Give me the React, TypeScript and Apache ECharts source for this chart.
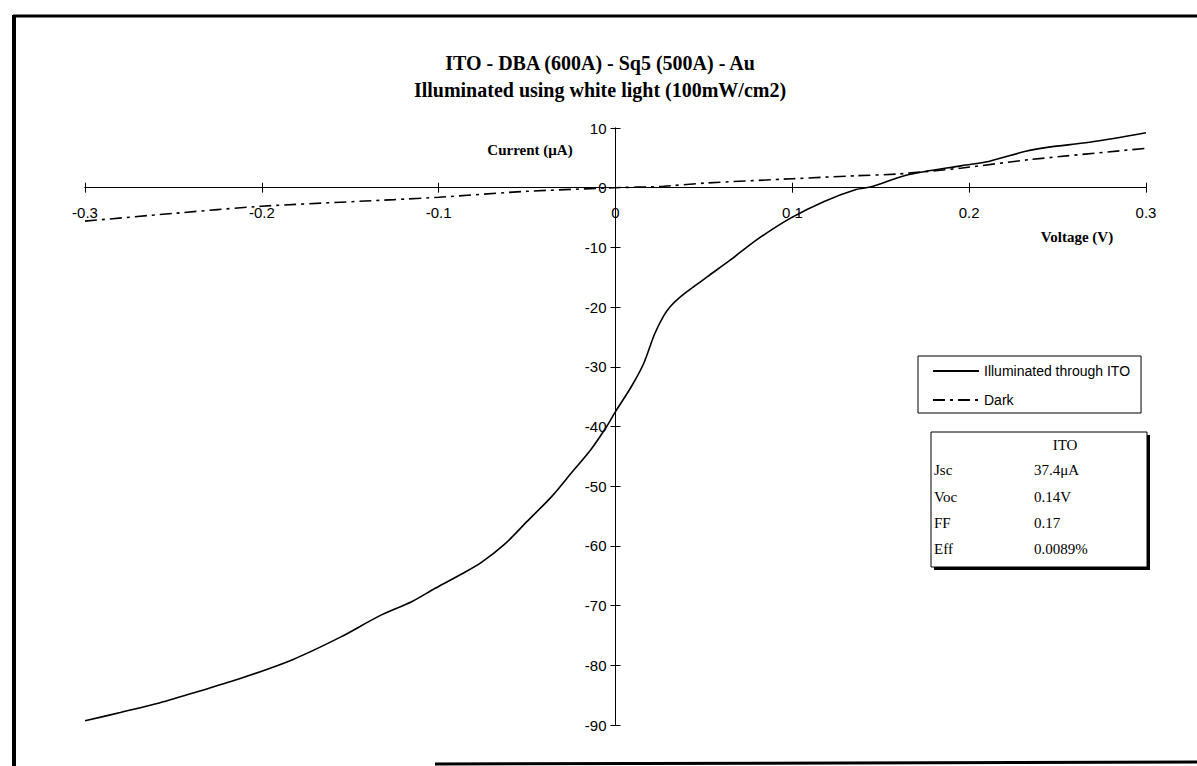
import React, { useEffect, useRef } from "react";
import * as echarts from "echarts";

const titleLines = ["ITO - DBA (600A) - Sq5 (500A) - Au", "Illuminated using white light (100mW/cm2)"];
const xTicks = { min: -0.3, max: 0.3, interval: 0.1 };
const yTicks = { min: -90, max: 10, interval: 10 };

const illumV = [-0.3, -0.28, -0.258, -0.235, -0.211, -0.183, -0.155, -0.134, -0.115, -0.102, -0.087, -0.076, -0.063, -0.05, -0.036, -0.025, -0.014, -0.005, 0, 0.009, 0.016, 0.022, 0.027, 0.031, 0.037, 0.046, 0.052, 0.065, 0.08, 0.099, 0.118, 0.136, 0.144, 0.166, 0.196, 0.211, 0.232, 0.245, 0.268, 0.3];
const illumI = [-89.3, -87.9, -86.3, -84.3, -82.1, -79.1, -75.2, -71.8, -69.3, -67.1, -64.7, -62.8, -59.8, -55.9, -51.7, -47.8, -43.9, -40.0, -37.5, -33.3, -29.4, -24.6, -21.6, -19.9, -18.2, -16.2, -14.9, -12.1, -8.7, -5.1, -2.3, -0.3, 0.1, 2.2, 3.7, 4.4, 6.1, 6.8, 7.6, 9.2];

const darkV = [-0.3, -0.25, -0.2, -0.125, -0.1, -0.05, 0, 0.025, 0.052, 0.1, 0.136, 0.16, 0.196, 0.234, 0.3];
const darkI = [-5.6, -4.3, -3.1, -2.0, -1.6, -0.6, 0, 0.2, 0.8, 1.5, 2.0, 2.3, 3.3, 4.7, 6.6];

const seriesNames = ["Illuminated through ITO", "Dark"];
const tableHeader = "ITO";
const tableLabels = ["Jsc", "Voc", "FF", "Eff"];
const tableValues = ["37.4\u03bcA", "0.14V", "0.17", "0.0089%"];

const SERIF = "'Liberation Serif', 'Times New Roman', serif";
const SANS = "'Liberation Sans', Arial, sans-serif";

const W = 1197;
const H = 766;
const GRID = { left: 85, right: 51, top: 128, bottom: 41 };

export default function App() {
  const ref = useRef<HTMLDivElement>(null);
  useEffect(() => {
    if (!ref.current) return;
    const chart = echarts.init(ref.current, null, { renderer: "svg" });
    const illum = illumV.map((v, i) => [v, illumI[i]]);
    const dark = darkV.map((v, i) => [v, darkI[i]]);

    const gw = W - GRID.left - GRID.right;
    const gh = H - GRID.top - GRID.bottom;
    // distance of the zero lines from the grid edges (axes cross at the origin)
    const zeroFromBottom = (gh * (0 - yTicks.min)) / (yTicks.max - yTicks.min);
    const zeroFromLeft = (gw * (0 - xTicks.min)) / (xTicks.max - xTicks.min);

    const axisLine = { show: true, onZero: false, lineStyle: { color: "#000", width: 1 } };
    const tick = { show: true, length: 5, lineStyle: { color: "#000", width: 1 } };

    const rowYs = [470, 497, 523, 549];
    const tableTexts: any[] = [
      { type: "text", x: 1065, y: 445, style: { text: tableHeader, font: `15px ${SERIF}`, fill: "#000", textAlign: "center", textVerticalAlign: "middle" } },
    ];
    tableLabels.forEach((l, i) => {
      tableTexts.push({ type: "text", x: 934, y: rowYs[i], style: { text: l, font: `15px ${SERIF}`, fill: "#000", textVerticalAlign: "middle" } });
      tableTexts.push({ type: "text", x: 1034, y: rowYs[i], style: { text: tableValues[i], font: `15px ${SERIF}`, fill: "#000", textVerticalAlign: "middle" } });
    });

    chart.setOption({
      animation: false,
      backgroundColor: "#fff",
      grid: { ...GRID, containLabel: false },
      xAxis: [
        {
          type: "value", min: xTicks.min, max: xTicks.max, interval: xTicks.interval, position: "bottom", offset: -zeroFromBottom,
          axisLine, axisTick: tick, splitLine: { show: false },
          axisLabel: { color: "#000", fontFamily: SANS, fontSize: 15, margin: 17, formatter: (v: number) => String(Math.round(v * 10) / 10) },
        },
        {
          type: "value", min: xTicks.min, max: xTicks.max, interval: xTicks.interval, position: "top", offset: -(gh - zeroFromBottom),
          axisLine, axisTick: tick, splitLine: { show: false }, axisLabel: { show: false },
        },
      ],
      yAxis: [
        {
          type: "value", min: yTicks.min, max: yTicks.max, interval: yTicks.interval, position: "left", offset: -zeroFromLeft,
          axisLine, axisTick: tick, splitLine: { show: false },
          axisLabel: { color: "#000", fontFamily: SANS, fontSize: 15, margin: 9 },
        },
        {
          type: "value", min: yTicks.min, max: yTicks.max, interval: yTicks.interval, position: "right", offset: -(gw - zeroFromLeft),
          axisLine, axisTick: tick, splitLine: { show: false }, axisLabel: { show: false },
        },
      ],
      legend: {
        orient: "vertical",
        left: 918,
        top: 356,
        padding: [8, 11, 6, 14],
        itemGap: 15,
        itemWidth: 46,
        itemHeight: 14,
        borderColor: "#000",
        borderWidth: 1,
        backgroundColor: "#fff",
        itemStyle: { opacity: 0 },
        textStyle: { color: "#000", fontFamily: SANS, fontSize: 14 },
        data: seriesNames,
      },
      series: [
        {
          name: seriesNames[0], type: "line", data: illum, smooth: 0.3, showSymbol: false, symbol: "none",
          lineStyle: { color: "#000", width: 1.6, type: "solid" }, itemStyle: { color: "#000" }, z: 3,
        },
        {
          name: seriesNames[1], type: "line", data: dark, smooth: 0.2, showSymbol: false, symbol: "none",
          lineStyle: { color: "#000", width: 1.6, type: [12, 5, 3, 5] }, itemStyle: { color: "#000" }, z: 3,
        },
      ],
      graphic: [
        { type: "line", shape: { x1: 13, y1: 16, x2: 1197, y2: 16 }, style: { stroke: "#000", lineWidth: 3 }, z: 10 },
        { type: "line", shape: { x1: 14, y1: 15, x2: 14, y2: 766 }, style: { stroke: "#000", lineWidth: 4 }, z: 10 },
        { type: "line", shape: { x1: 435, y1: 764, x2: 1197, y2: 762 }, style: { stroke: "#000", lineWidth: 3 }, z: 10 },
        { type: "text", x: 600, y: 63, style: { text: titleLines[0], font: `bold 20px ${SERIF}`, fill: "#000", textAlign: "center", textVerticalAlign: "middle" } },
        { type: "text", x: 600, y: 90, style: { text: titleLines[1], font: `bold 20px ${SERIF}`, fill: "#000", textAlign: "center", textVerticalAlign: "middle" } },
        { type: "text", x: 530, y: 150, style: { text: "Current (\u03bcA)", font: `bold 15px ${SERIF}`, fill: "#000", textAlign: "center", textVerticalAlign: "middle" } },
        { type: "text", x: 1077, y: 237, style: { text: "Voltage (V)", font: `bold 15px ${SERIF}`, fill: "#000", textAlign: "center", textVerticalAlign: "middle" } },
        { type: "rect", shape: { x: 934, y: 435, width: 216, height: 135 }, style: { fill: "#000" }, z: 20 },
        { type: "rect", shape: { x: 931, y: 432, width: 216, height: 135 }, style: { fill: "#fff", stroke: "#000", lineWidth: 1 }, z: 21 },
        ...tableTexts.map((t) => ({ ...t, z: 22 })),
      ],
    });
    return () => chart.dispose();
  }, []);
  return <div ref={ref} style={{ position: "absolute", left: 0, top: 0, width: W, height: H }} />;
}
